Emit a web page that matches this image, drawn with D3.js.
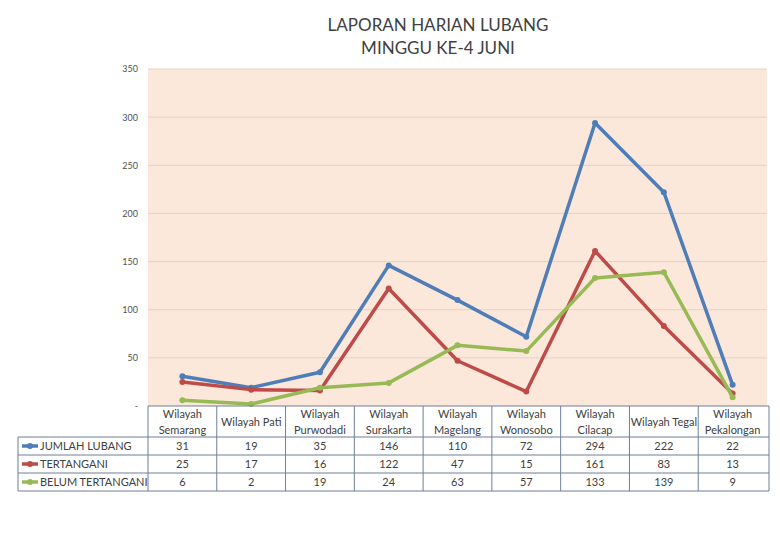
<!DOCTYPE html>
<html>
<head>
<meta charset="utf-8">
<script src="https://cdn.jsdelivr.net/npm/d3@7"></script>
<style>
body{margin:0;background:#fff;}
svg{display:block;font-family:Lato,"Open Sans",sans-serif;}
</style>
</head>
<body>
<svg id="c" width="780" height="540"></svg>
<script>
const categories = ["Wilayah Semarang","Wilayah Pati","Wilayah Purwodadi","Wilayah Surakarta","Wilayah Magelang","Wilayah Wonosobo","Wilayah Cilacap","Wilayah Tegal","Wilayah Pekalongan"];
const categoryLines = [["Wilayah","Semarang"],["Wilayah Pati"],["Wilayah","Purwodadi"],["Wilayah","Surakarta"],["Wilayah","Magelang"],["Wilayah","Wonosobo"],["Wilayah","Cilacap"],["Wilayah Tegal"],["Wilayah","Pekalongan"]];
const jumlahLubang = [31,19,35,146,110,72,294,222,22];
const tertangani = [25,17,16,122,47,15,161,83,13];
const belumTertangani = [6,2,19,24,63,57,133,139,9];
const seriesNames = ["JUMLAH LUBANG","TERTANGANI","BELUM TERTANGANI"];
const seriesColors = ["#4F7DB8","#BE4B48","#98BA56"];
const yTicks = [0,50,100,150,200,250,300,350];
const titleLines = ["LAPORAN HARIAN LUBANG","MINGGU KE-4 JUNI"];

const series = [jumlahLubang,tertangani,belumTertangani].map((v,i)=>({name:seriesNames[i],color:seriesColors[i],values:v}));

const svg = d3.select("#c");
const L=148,R=767,T=69,B=406;
const x = d3.scaleBand().domain(categories).range([L,R]);
const y = d3.scaleLinear().domain([0,350]).range([B,T]);

// title
svg.append("g").selectAll("text").data(titleLines).join("text")
  .attr("x",438).attr("y",(d,i)=>31+i*23).attr("text-anchor","middle")
  .attr("font-size",17).attr("fill","#404040").text(d=>d);

// plot bg
svg.append("rect").attr("x",L).attr("y",T).attr("width",R-L).attr("height",B-T).attr("fill","#FBE8DA");

// grid
svg.append("g").selectAll("line").data(yTicks.filter(d=>d>0)).join("line")
  .attr("x1",L).attr("x2",R).attr("y1",d=>y(d)).attr("y2",d=>y(d))
  .attr("stroke","#E6D2C4").attr("stroke-width",1);

// y axis
const yAxis = d3.axisLeft(y).tickValues(yTicks).tickSize(0).tickPadding(10)
  .tickFormat(d=>d===0?"-":d);
const ya = svg.append("g").attr("transform",`translate(${L},0)`).call(yAxis);
ya.select(".domain").remove();
ya.selectAll("text").attr("font-size",9).attr("fill","#505050").attr("font-family","Lato,sans-serif");

// lines
const line = d3.line().x((d,i)=>x(categories[i])+x.bandwidth()/2).y(d=>y(d));
const sg = svg.append("g").selectAll("g").data(series).join("g");
sg.append("path").attr("d",d=>line(d.values)).attr("fill","none")
  .attr("stroke",d=>d.color).attr("stroke-width",3.5).attr("stroke-linejoin","round");
sg.selectAll("circle").data(d=>d.values.map((v,i)=>({v,i,c:d.color}))).join("circle")
  .attr("cx",d=>x(categories[d.i])+x.bandwidth()/2).attr("cy",d=>y(d.v)).attr("r",3)
  .attr("fill",d=>d.c);

// table
const border="#6E7F99";
const hTop=406,hBot=437,rowH=18,legL=18;
const tg = svg.append("g");
const rowsBot = hBot+rowH*3;
// horizontal lines
tg.append("line").attr("x1",L).attr("x2",R+2).attr("y1",hTop).attr("y2",hTop).attr("stroke",border);
[0,1,2,3].forEach(k=>{
  tg.append("line").attr("x1",legL).attr("x2",R+2).attr("y1",hBot+k*rowH).attr("y2",hBot+k*rowH).attr("stroke",border);
});
// vertical lines
tg.append("line").attr("x1",legL).attr("x2",legL).attr("y1",hBot).attr("y2",rowsBot).attr("stroke",border);
categories.forEach((c,i)=>{
  tg.append("line").attr("x1",x(c)).attr("x2",x(c)).attr("y1",hTop).attr("y2",rowsBot).attr("stroke",border);
});
tg.append("line").attr("x1",R+2).attr("x2",R+2).attr("y1",hTop).attr("y2",rowsBot).attr("stroke",border);

// headers
categoryLines.forEach((ls,i)=>{
  const cx=x(categories[i])+x.bandwidth()/2;
  const n=ls.length;
  ls.forEach((t,j)=>{
    tg.append("text").attr("x",cx).attr("y",hTop+(hBot-hTop)/2+(j-(n-1)/2)*16+4)
      .attr("text-anchor","middle").attr("font-size",11).attr("fill","#404040").text(t);
  });
});
// rows
series.forEach((s,k)=>{
  const cy=hBot+k*rowH+rowH/2;
  tg.append("line").attr("x1",22).attr("x2",38).attr("y1",cy).attr("y2",cy).attr("stroke",s.color).attr("stroke-width",3.5);
  tg.append("circle").attr("cx",30).attr("cy",cy).attr("r",3).attr("fill",s.color);
  tg.append("text").attr("x",40).attr("y",cy+4).attr("font-size",11).attr("fill","#404040").text(s.name);
  s.values.forEach((v,i)=>{
    tg.append("text").attr("x",x(categories[i])+x.bandwidth()/2).attr("y",cy+4)
      .attr("text-anchor","middle").attr("font-size",11).attr("fill","#404040").text(v);
  });
});
</script>
</body>
</html>
